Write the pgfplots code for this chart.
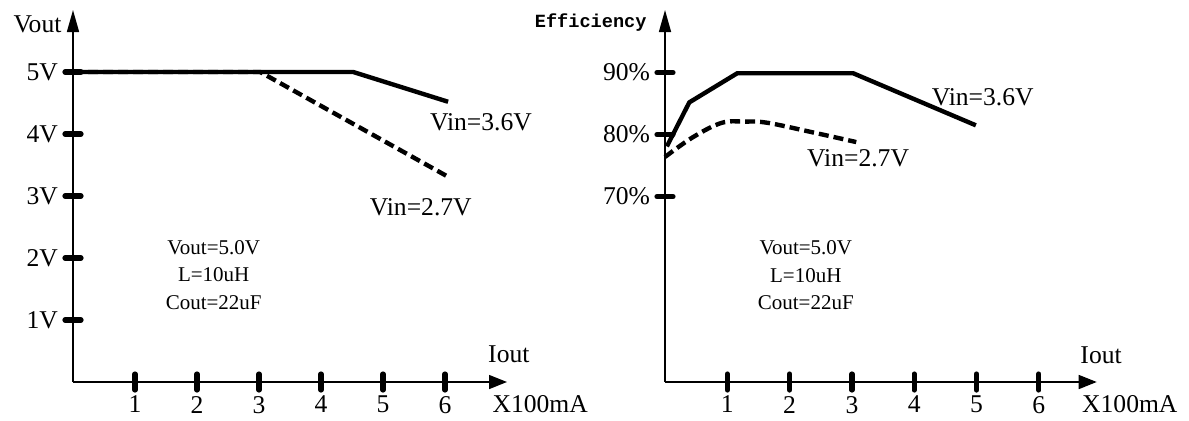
\documentclass[border=0pt]{standalone}
\usepackage{pgfplots}
\pgfplotsset{compat=1.18}
\usetikzlibrary{arrows.meta}
\usepackage{fontspec}
\setmainfont{Liberation Serif}
\newfontfamily\monob{Liberation Mono}
\begin{document}
\begin{tikzpicture}
\useasboundingbox (0,0) rectangle (594.5pt,210pt);
\tikzset{
 big/.style={font=\fontsize{12.8}{14}\selectfont},
 small/.style={font=\fontsize{10.5}{13.8}\selectfont, align=center},
}
\pgfplotsset{
 myax/.style={
  axis lines=left,
  clip=false,
  axis line style={line width=0.75pt, black},
  x axis line style={-{Triangle[length=9pt,width=7pt]}},
  y axis line style={-{Triangle[length=11pt,width=6pt]}},
  tick align=center,
  major tick length=8pt,
  tick style={line width=2.6pt, black, line cap=round},
  xtick={1,...,6},
  xticklabels={1,2,3,4,5,6},
  /pgf/number format/assume math mode=true,
  tick label style={font=\fontsize{12.8}{14}\selectfont},
  xticklabel style={yshift=0.5pt},
  yticklabel style={xshift=0pt},
  anchor=south west,
 },
}
% Left: Vout vs Iout
\begin{axis}[myax, at={(36.5pt,19pt)}, x=31pt, y=31pt,
  xmin=0, xmax=7, ymin=0, ymax=6,
  ytick={1,2,3,4,5}, yticklabels={1V,2V,3V,4V,5V}]
\addplot[black, line width=2.2pt] coordinates {(0,5) (4.52,5) (6.05,4.52)};
\addplot[black, line width=2.2pt, dash pattern=on 5pt off 2.5pt] coordinates {(0,5) (3.02,5) (6.05,3.31)};
\node[big, anchor=east, inner sep=0pt] at (axis cs:-0.18,5.77) {Vout};
\node[big] at (axis cs:7.03,0.44) {Iout};
\node[big, anchor=west, inner sep=0pt] at (axis cs:6.76,-0.35) {X100mA};
\node[big] at (axis cs:6.58,4.19) {Vin=3.6V};
\node[big] at (axis cs:5.61,2.82) {Vin=2.7V};
\node[small] at (axis cs:2.27,1.73) {Vout=5.0V\\L=10uH\\Cout=22uF};
\end{axis}
% Right: Efficiency vs Iout
\begin{axis}[myax, at={(332.5pt,19pt)}, x=31.15pt, y=3.1pt,
  xmin=0, xmax=6.93, ymin=40.1, ymax=100.1,
  ytick={70,80,90}, yticklabels={70\%,80\%,90\%}]
\addplot[black, line width=2.2pt] coordinates {(0.03,78.1) (0.39,85.2) (1.16,89.9) (3.02,89.9) (4.99,81.5)};
\addplot[black, line width=2.2pt, dash pattern=on 5pt off 2.5pt, smooth, tension=0.6] coordinates {(0,76.4) (0.45,79.6) (0.91,81.9) (1.28,82.1) (1.65,81.9) (2.4,80.3) (3.07,78.8)};
\node[font=\monob\bfseries\fontsize{9.3}{11}\selectfont, anchor=east, inner sep=0pt] at (axis cs:-0.29,98.0) {Efficiency};
\node[big] at (axis cs:7.0,44.4) {Iout};
\node[big, anchor=west, inner sep=0pt] at (axis cs:6.69,36.6) {X100mA};
\node[big] at (axis cs:5.10,86.05) {Vin=3.6V};
\node[big] at (axis cs:3.10,76.2) {Vin=2.7V};
\node[small] at (axis cs:2.26,57.3) {Vout=5.0V\\L=10uH\\Cout=22uF};
\end{axis}
\end{tikzpicture}
\end{document}
